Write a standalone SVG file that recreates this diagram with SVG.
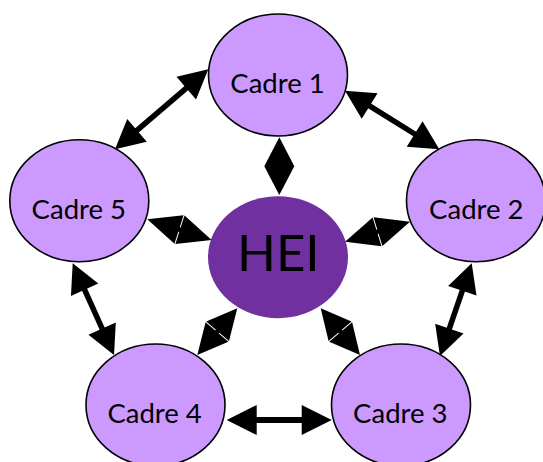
<svg xmlns="http://www.w3.org/2000/svg" width="543" height="462" viewBox="0 0 543 462">
<style>
.cadre{fill:#CC99FF;stroke:#000;stroke-width:1.6}
.hei{fill:#7030A0}
.lbl{font-family:Lato,"Open Sans",sans-serif;font-size:27.5px;fill:#000;text-anchor:middle}
.big{font-family:Lato,"Open Sans",sans-serif;font-size:51px;fill:#000;text-anchor:middle}
.head{fill:#000}
.shaft{stroke:#000;stroke-width:5.5;fill:none}
</style>
<rect width="543" height="462" fill="#fff"/>
<g id="cadre1"><ellipse class="cadre" cx="278" cy="75" rx="69.5" ry="61"/><text class="lbl" x="277.5" y="93.3">Cadre 1</text></g>
<g id="cadre2"><ellipse class="cadre" cx="476" cy="200.8" rx="69.5" ry="61"/><text class="lbl" x="476.3" y="219">Cadre 2</text></g>
<g id="cadre5"><ellipse class="cadre" cx="79.3" cy="200.8" rx="69.5" ry="61"/><text class="lbl" x="78.8" y="219">Cadre 5</text></g>
<g id="cadre4"><ellipse class="cadre" cx="155.5" cy="405" rx="69.5" ry="61"/><text class="lbl" x="154.6" y="423.3">Cadre 4</text></g>
<g id="cadre3"><ellipse class="cadre" cx="401" cy="405" rx="69.5" ry="61"/><text class="lbl" x="400.3" y="423.3">Cadre 3</text></g>
<g id="hei"><ellipse class="hei" cx="278" cy="257.2" rx="70" ry="61"/><text class="big" x="278.3" y="270.7">HEI</text></g>
<g id="connectors">
<g transform="translate(208.3,69.3) rotate(139.4)"><path class="head" d="M0,0 L29,-15 L29,15 Z M122.9,0 L93.9,-15 L93.9,15 Z"/><line class="shaft" x1="27" y1="0" x2="95.9" y2="0"/></g>
<g transform="translate(345,90.7) rotate(31.85)"><path class="head" d="M0,0 L29,-15 L29,15 Z M111,0 L82,-15 L82,15 Z"/><line class="shaft" x1="27" y1="0" x2="84" y2="0"/></g>
<g transform="translate(72.7,263.3) rotate(65.75)"><path class="head" d="M0,0 L29,-15 L29,15 Z M100.6,0 L71.6,-15 L71.6,15 Z"/><line class="shaft" x1="27" y1="0" x2="73.6" y2="0"/></g>
<g transform="translate(471.7,263.3) rotate(108.9)"><path class="head" d="M0,0 L29,-15 L29,15 Z M98,0 L69,-15 L69,15 Z"/><line class="shaft" x1="27" y1="0" x2="71" y2="0"/></g>
<g transform="translate(226.7,420)"><path class="head" d="M0,0 L30,-15 L30,15 Z M105,0 L75,-15 L75,15 Z"/><line class="shaft" x1="28" y1="0" x2="77" y2="0" style="stroke-width:6"/></g>
<g transform="translate(279.3,137.3) rotate(90)"><path class="head" d="M0,0 L28.85,-15 L57.7,0 L28.85,15 Z"/></g>
<g transform="translate(147.3,219.3) rotate(17.8)"><path class="head" d="M0,0 L33.3,-15 L33.3,15 Z M67.6,0 L34.3,-15 L34.3,15 Z"/><line class="shaft" x1="30" y1="0" x2="37.6" y2="0" style="stroke-width:4.5"/></g>
<g transform="translate(345,241.7) rotate(-17.1)"><path class="head" d="M0,0 L33.5,-15 L33.5,15 Z M68,0 L34.5,-15 L34.5,15 Z"/><line class="shaft" x1="30" y1="0" x2="38" y2="0" style="stroke-width:4.5"/></g>
<g transform="translate(237.3,308.3) rotate(130.6)"><path class="head" d="M0,0 L30.25,-15 L30.25,15 Z M61.5,0 L31.25,-15 L31.25,15 Z"/><line class="shaft" x1="27" y1="0" x2="34.5" y2="0" style="stroke-width:4.5"/></g>
<g transform="translate(320.7,308.3) rotate(49.9)"><path class="head" d="M0,0 L30,-15 L30,15 Z M61,0 L31,-15 L31,15 Z"/><line class="shaft" x1="27" y1="0" x2="34" y2="0" style="stroke-width:4.5"/></g>
</g>
</svg>
